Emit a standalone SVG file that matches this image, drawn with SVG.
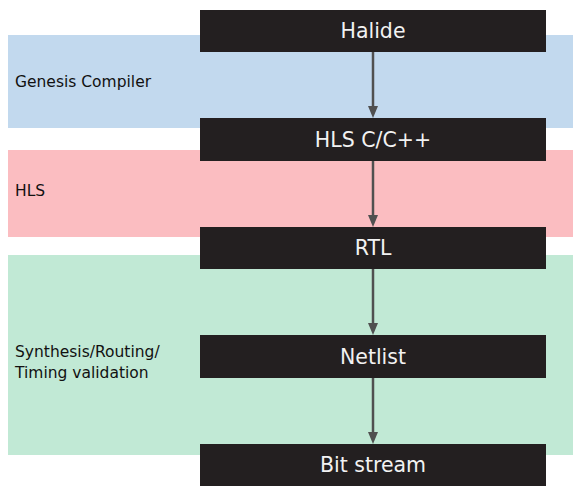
<svg xmlns="http://www.w3.org/2000/svg" width="574" height="486" viewBox="0 0 574 486">
<style>
.band-label{font-family:"DejaVu Sans",Verdana,sans-serif;font-size:15.5px;fill:#111}
.box{fill:#231f20}
.box-text{font-family:"DejaVu Sans",Verdana,sans-serif;font-size:20.5px;fill:#f2f2f2;text-anchor:middle}
.conn{stroke:#505050;stroke-width:2.5;fill:none}
</style>
<defs>
<marker id="arr" markerWidth="12" markerHeight="12" refX="6" refY="6" orient="auto" markerUnits="userSpaceOnUse">
<path d="M0,1 L12,6 L0,11 Z" fill="#505050"/>
</marker>
</defs>
<rect width="574" height="486" fill="#ffffff"/>
<g id="band-genesis">
<rect x="8" y="35" width="565" height="93" fill="#c2d9ee"/>
<text class="band-label" x="15" y="87">Genesis Compiler</text>
</g>
<g id="band-hls">
<rect x="8" y="150" width="565" height="87" fill="#fbbdc1"/>
<text class="band-label" x="15" y="196">HLS</text>
</g>
<g id="band-synth">
<rect x="8" y="255" width="565" height="200" fill="#c1e9d5"/>
<text class="band-label" x="15" y="357">Synthesis/Routing/</text>
<text class="band-label" x="15" y="378">Timing validation</text>
</g>
<g id="connectors">
<line class="conn" x1="373" y1="52" x2="373" y2="112" marker-end="url(#arr)"/>
<line class="conn" x1="373" y1="161" x2="373" y2="221" marker-end="url(#arr)"/>
<line class="conn" x1="373" y1="269" x2="373" y2="329" marker-end="url(#arr)"/>
<line class="conn" x1="373" y1="378" x2="373" y2="438" marker-end="url(#arr)"/>
</g>
<g id="node-halide">
<rect class="box" x="200" y="10" width="346" height="42"/>
<text class="box-text" x="373" y="38">Halide</text>
</g>
<g id="node-hls">
<rect class="box" x="200" y="118" width="346" height="43"/>
<text class="box-text" x="373" y="147">HLS C/C++</text>
</g>
<g id="node-rtl">
<rect class="box" x="200" y="227" width="346" height="42"/>
<text class="box-text" x="373" y="255">RTL</text>
</g>
<g id="node-netlist">
<rect class="box" x="200" y="335" width="346" height="43"/>
<text class="box-text" x="373" y="364">Netlist</text>
</g>
<g id="node-bitstream">
<rect class="box" x="200" y="444" width="346" height="42"/>
<text class="box-text" x="373" y="472">Bit stream</text>
</g>
</svg>
